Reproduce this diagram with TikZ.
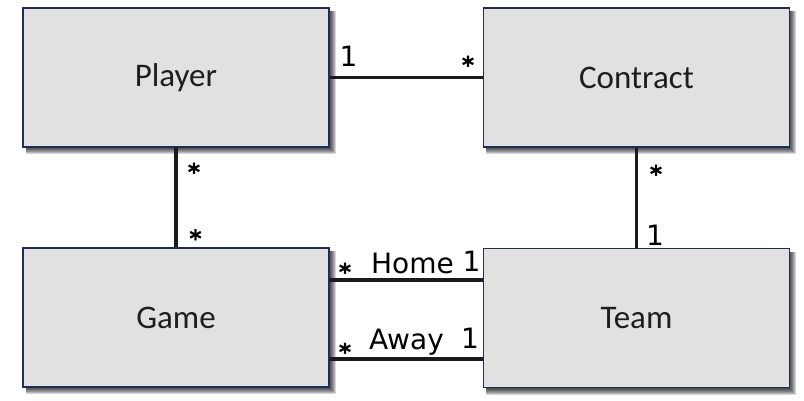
\documentclass[tikz,border=0pt]{standalone}
\usepackage{fontspec}
\setmainfont{Carlito}
\newfontfamily\lblfont{DejaVu Sans}
\newfontfamily\astfont{DejaVu Sans Bold}[FakeBold=1.5]
\begin{document}
\begin{tikzpicture}[x=1pt,y=-1pt,
  entity/.style={draw=navyb, line width=1.6pt, fill=boxgray, minimum width=306pt, minimum height=139pt,
    inner sep=0pt, font=\fontsize{33}{36}\selectfont, text=txtgray},
  conn/.style={line width=3.9pt, draw=linek},
  lbl/.style={inner sep=0pt, font=\lblfont\fontsize{28}{30}\selectfont, text=black, anchor=base},
  ast/.style={inner sep=0pt, font=\astfont\fontsize{23}{26}\selectfont, text=black, anchor=base}]
\definecolor{navyb}{HTML}{1B2F5A}
\definecolor{boxgray}{HTML}{E1E1E1}
\definecolor{txtgray}{HTML}{1E1E1E}
\definecolor{linek}{HTML}{1A1A1A}
\useasboundingbox (0,0) rectangle (804,401);
% shadows
\foreach \bx/\by in {23/8, 483/8, 23/248, 483/249}{
  \foreach \k in {1,2,3,4,5,6,7}{
    \fill[black, opacity=0.16] (\bx+3,\by+3) rectangle (\bx+306+\k,\by+139+\k);
  }
}
\node[entity] (Player) at (176,77.5) {Player};
\node[entity] (Contract) at (636.5,77.5) {Contract};
\node[entity] (Game) at (176,317.5) {Game};
\node[entity] (Team) at (636.5,318) {Team};
\coordinate (homeY) at (0,280);
\coordinate (awayY) at (0,359);
\draw[conn] (Player.east) -- (Contract.west);
\draw[conn] (Player.south) -- (Game.north);
\draw[conn] (Contract.south) -- (Team.north);
\draw[conn] (Game.east |- homeY) -- (Team.west |- homeY);
\draw[conn] (Game.east |- awayY) -- (Team.west |- awayY);
% labels
\node[lbl] (m1) at (348.5,67) {1};
\node[ast] (m2) at (468,73) {*};
\node[ast] (m3) at (194,180) {*};
\node[ast] (m4) at (195.5,246.5) {*};
\node[ast] (m5) at (656,182) {*};
\node[lbl] (m6) at (655,245) {1};
\node[ast] (m7) at (345,280) {*};
\node[lbl] (home) at (412.5,273) {Home};
\node[lbl] (m8) at (471.5,272) {1};
\node[ast] (m9) at (345,360) {*};
\node[lbl] (away) at (406.5,349) {Away};
\node[lbl] (m10) at (470,348) {1};
\end{tikzpicture}
\end{document}
